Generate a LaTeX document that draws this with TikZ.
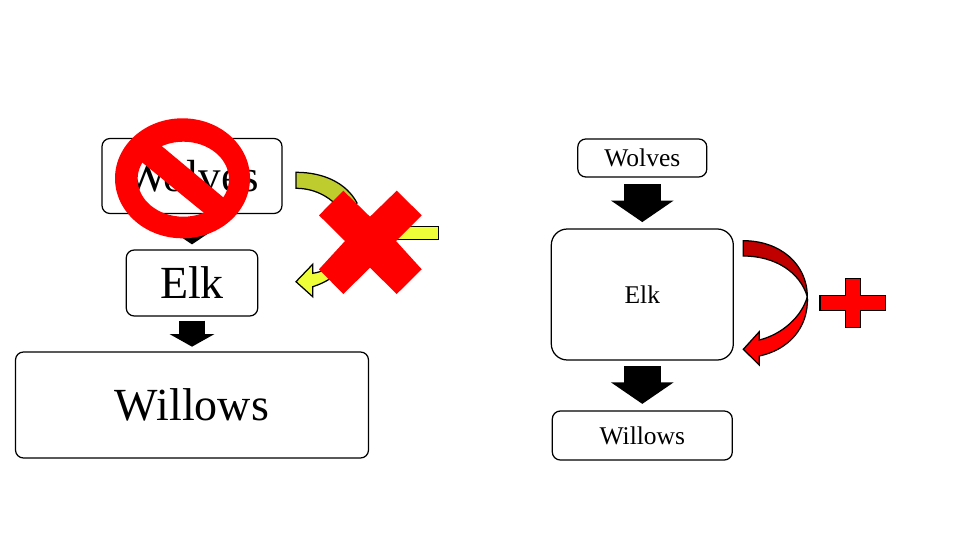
\documentclass[tikz,border=0pt]{standalone}
\usepackage{fontspec}
\setmainfont{Liberation Serif}
\usetikzlibrary{arrows.meta, positioning}

\definecolor{signred}{HTML}{FF0000}
\definecolor{darkred}{HTML}{C00000}
\definecolor{brightyellow}{HTML}{EEFF3A}
\definecolor{darkyellow}{HTML}{BECC2E}

\tikzset{
    species/.style={draw=black, line width=1.25pt, rounded corners=8pt, fill=white, inner sep=0pt, align=center},
    blockdown/.style={line width=37.5pt, -{Triangle[width=61.6pt, length=21.5pt]}},
    ribbon/.style={draw=black, line width=1.25pt, line join=miter},
}

\begin{document}
\begin{tikzpicture}[x=1pt, y=-1pt]
    \useasboundingbox (0, 0) rectangle (960, 540);

    % left chain
    \node [species, minimum width=180pt, minimum height=75pt, font=\fontsize{45}{50}\selectfont] (wolvesL) at (192, 176) {Wolves};
    \node [species, minimum width=131.5pt, minimum height=66pt, font=\fontsize{46}{54}\selectfont] (elkL) at (192, 283) {Elk};
    \node [species, minimum width=353pt, minimum height=106pt, font=\fontsize{46}{54}\selectfont] (willowsL) at (192, 405) {Willows};

    \draw [line width=26pt, -{Triangle[width=44pt, length=15pt]}, shorten <=7pt, shorten >=5pt] (wolvesL.south) -- (elkL.north);
    \draw [line width=26pt, -{Triangle[width=44pt, length=12.5pt]}, shorten <=4pt, shorten >=4.7pt] (elkL.south) -- (willowsL.north);

    % right chain
    \node [species, minimum width=129pt, minimum height=38pt, font=\fontsize{25.5}{30}\selectfont] (wolvesR) at (642.3, 158) {Wolves};
    \node [species, minimum width=182pt, minimum height=131pt, rounded corners=16pt, font=\fontsize{25.5}{30}\selectfont] (elkR) at (642.3, 294.5) {Elk};
    \node [species, minimum width=180pt, minimum height=49pt, font=\fontsize{25.5}{30}\selectfont] (willowsR) at (642.3, 435.5) {Willows};

    \draw [blockdown, shorten <=6.5pt, shorten >=6.3pt] (wolvesR.south) -- (elkR.north);
    \draw [blockdown, shorten <=5.5pt, shorten >=6.5pt] (elkR.south) -- (willowsR.north);

    % curved arrow beside the right Elk
    \draw [ribbon, fill=signred] (807.3, 296.7) .. controls (809, 328) and (788, 350) .. (759.3, 356)
        -- (759.3, 365) -- (743.3, 349.3) -- (759.3, 331.7) -- (759.3, 340)
        .. controls (783, 334) and (802, 316) .. (807.3, 296.7) -- cycle;
    \draw [ribbon, fill=darkred] (743.3, 240.7) .. controls (780, 240.7) and (807.3, 264) .. (807.3, 296.7)
        .. controls (800, 272) and (775, 256) .. (743.3, 256) -- cycle;

    % plus sign
    \draw [ribbon, fill=signred] (820, 295.3) -- (845.3, 295.3) -- (845.3, 278.3) -- (860.7, 278.3) -- (860.7, 295.3)
        -- (885.7, 295.3) -- (885.7, 310.7) -- (860.7, 310.7) -- (860.7, 327.3) -- (845.3, 327.3)
        -- (845.3, 310.7) -- (820, 310.7) -- cycle;

    % curved arrow beside the left Elk, crossed out
    \draw [ribbon, fill=darkyellow] (296, 172.3) .. controls (325, 172.3) and (347, 184) .. (357, 203)
        -- (345, 215) .. controls (333, 198) and (316, 188.3) .. (296, 188.3) -- cycle;
    \draw [ribbon, fill=brightyellow] (380, 226.7) -- (438.3, 226.7) -- (438.3, 239.3) -- (380, 239.3) -- cycle;
    \draw [ribbon, fill=brightyellow] (350, 262) .. controls (338, 275) and (325, 283) .. (312.7, 286.7)
        -- (312.7, 296.7) -- (296, 281.7) -- (312.7, 264.3) -- (312.7, 273.3)
        .. controls (322, 272) and (330, 268) .. (340, 258) -- cycle;

    % the cross
    \fill [signred] (343.3, 190.7) -- (370, 216.7) -- (396.7, 190.7) -- (421.7, 215.3) -- (396, 241) -- (421.7, 269.3)
        -- (396.7, 294) -- (370, 267.7) -- (343.3, 294) -- (319, 269.3) -- (345, 241) -- (319, 215.3) -- cycle;

    % forbidden sign over the left Wolves
    \fill [signred, even odd rule] (182.5, 178.3) ellipse [x radius=67.5, y radius=60]
        (183.3, 179.2) ellipse [x radius=45.7, y radius=37.5];
    \fill [signred] (158, 143) -- (227, 200.5) -- (209, 217) -- (135.5, 157) -- cycle;
\end{tikzpicture}
\end{document}
